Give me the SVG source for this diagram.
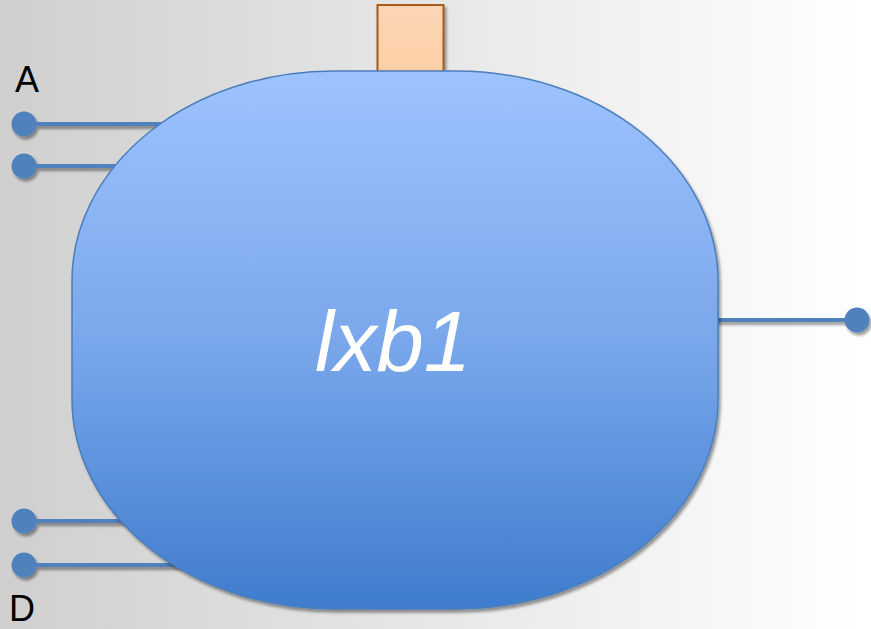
<svg xmlns="http://www.w3.org/2000/svg" width="871" height="629" viewBox="0 0 871 629">
  <defs>
    <linearGradient id="bg" x1="0" y1="0" x2="1" y2="0">
      <stop offset="0" stop-color="#cfcfcf"/>
      <stop offset="1" stop-color="#ffffff"/>
    </linearGradient>
    <linearGradient id="body" x1="0" y1="0" x2="0" y2="1">
      <stop offset="0" stop-color="#9dc3ff"/>
      <stop offset="0.5" stop-color="#7aa7eb"/>
      <stop offset="1" stop-color="#3f7ccd"/>
    </linearGradient>
    <linearGradient id="tab" x1="0" y1="0" x2="0" y2="1">
      <stop offset="0" stop-color="#fdd6b4"/>
      <stop offset="1" stop-color="#fccfa6"/>
    </linearGradient>
    <filter id="shadow" x="-20%" y="-20%" width="140%" height="160%">
      <feGaussianBlur in="SourceAlpha" stdDeviation="1.5"/>
      <feOffset dx="1.5" dy="2.5" result="b"/>
      <feComponentTransfer><feFuncA type="linear" slope="0.4"/></feComponentTransfer>
      <feMerge><feMergeNode/><feMergeNode in="SourceGraphic"/></feMerge>
    </filter>
  </defs>
  <style>
    .wire { stroke: #4f81bd; stroke-width: 4; fill: none; }
    .pin { fill: #4f81bd; }
    .lbl { font-family: "Liberation Sans", Arial, sans-serif; font-size: 36px; fill: #000; }
  </style>

  <rect x="0" y="0" width="871" height="629" fill="url(#bg)"/>

  <!-- wires and pins -->
  <g id="connectors" filter="url(#shadow)">
    <line class="wire" x1="24" y1="124" x2="180" y2="124"/>
    <circle class="pin" cx="24" cy="124" r="12.5"/>
    <line class="wire" x1="24" y1="166" x2="130" y2="166"/>
    <circle class="pin" cx="24" cy="166" r="12.5"/>
    <line class="wire" x1="24" y1="521" x2="140" y2="521"/>
    <circle class="pin" cx="24" cy="521" r="12.5"/>
    <line class="wire" x1="24" y1="565" x2="185" y2="565"/>
    <circle class="pin" cx="24" cy="565" r="12.5"/>
    <line class="wire" x1="710" y1="320" x2="857" y2="320"/>
    <circle class="pin" cx="857" cy="320" r="12.5"/>
  </g>

  <!-- top tab -->
  <g id="tab-node" filter="url(#shadow)">
    <rect x="377.5" y="5" width="66" height="68" fill="url(#tab)" stroke="#a85a1c" stroke-width="2"/>
  </g>

  <!-- main block -->
  <g id="lxb1" filter="url(#shadow)">
    <rect x="72" y="71" width="646" height="538" rx="262" ry="210" fill="url(#body)" stroke="#4a7ebb" stroke-width="1.5"/>
    <text x="393" y="371" text-anchor="middle" font-family="'Liberation Sans', Arial, sans-serif" font-style="italic" font-size="85" fill="#ffffff">lxb1</text>
  </g>

  <g id="label-a"><text class="lbl" x="15" y="92">A</text></g>
  <g id="label-d"><text class="lbl" x="9" y="621">D</text></g>
</svg>
